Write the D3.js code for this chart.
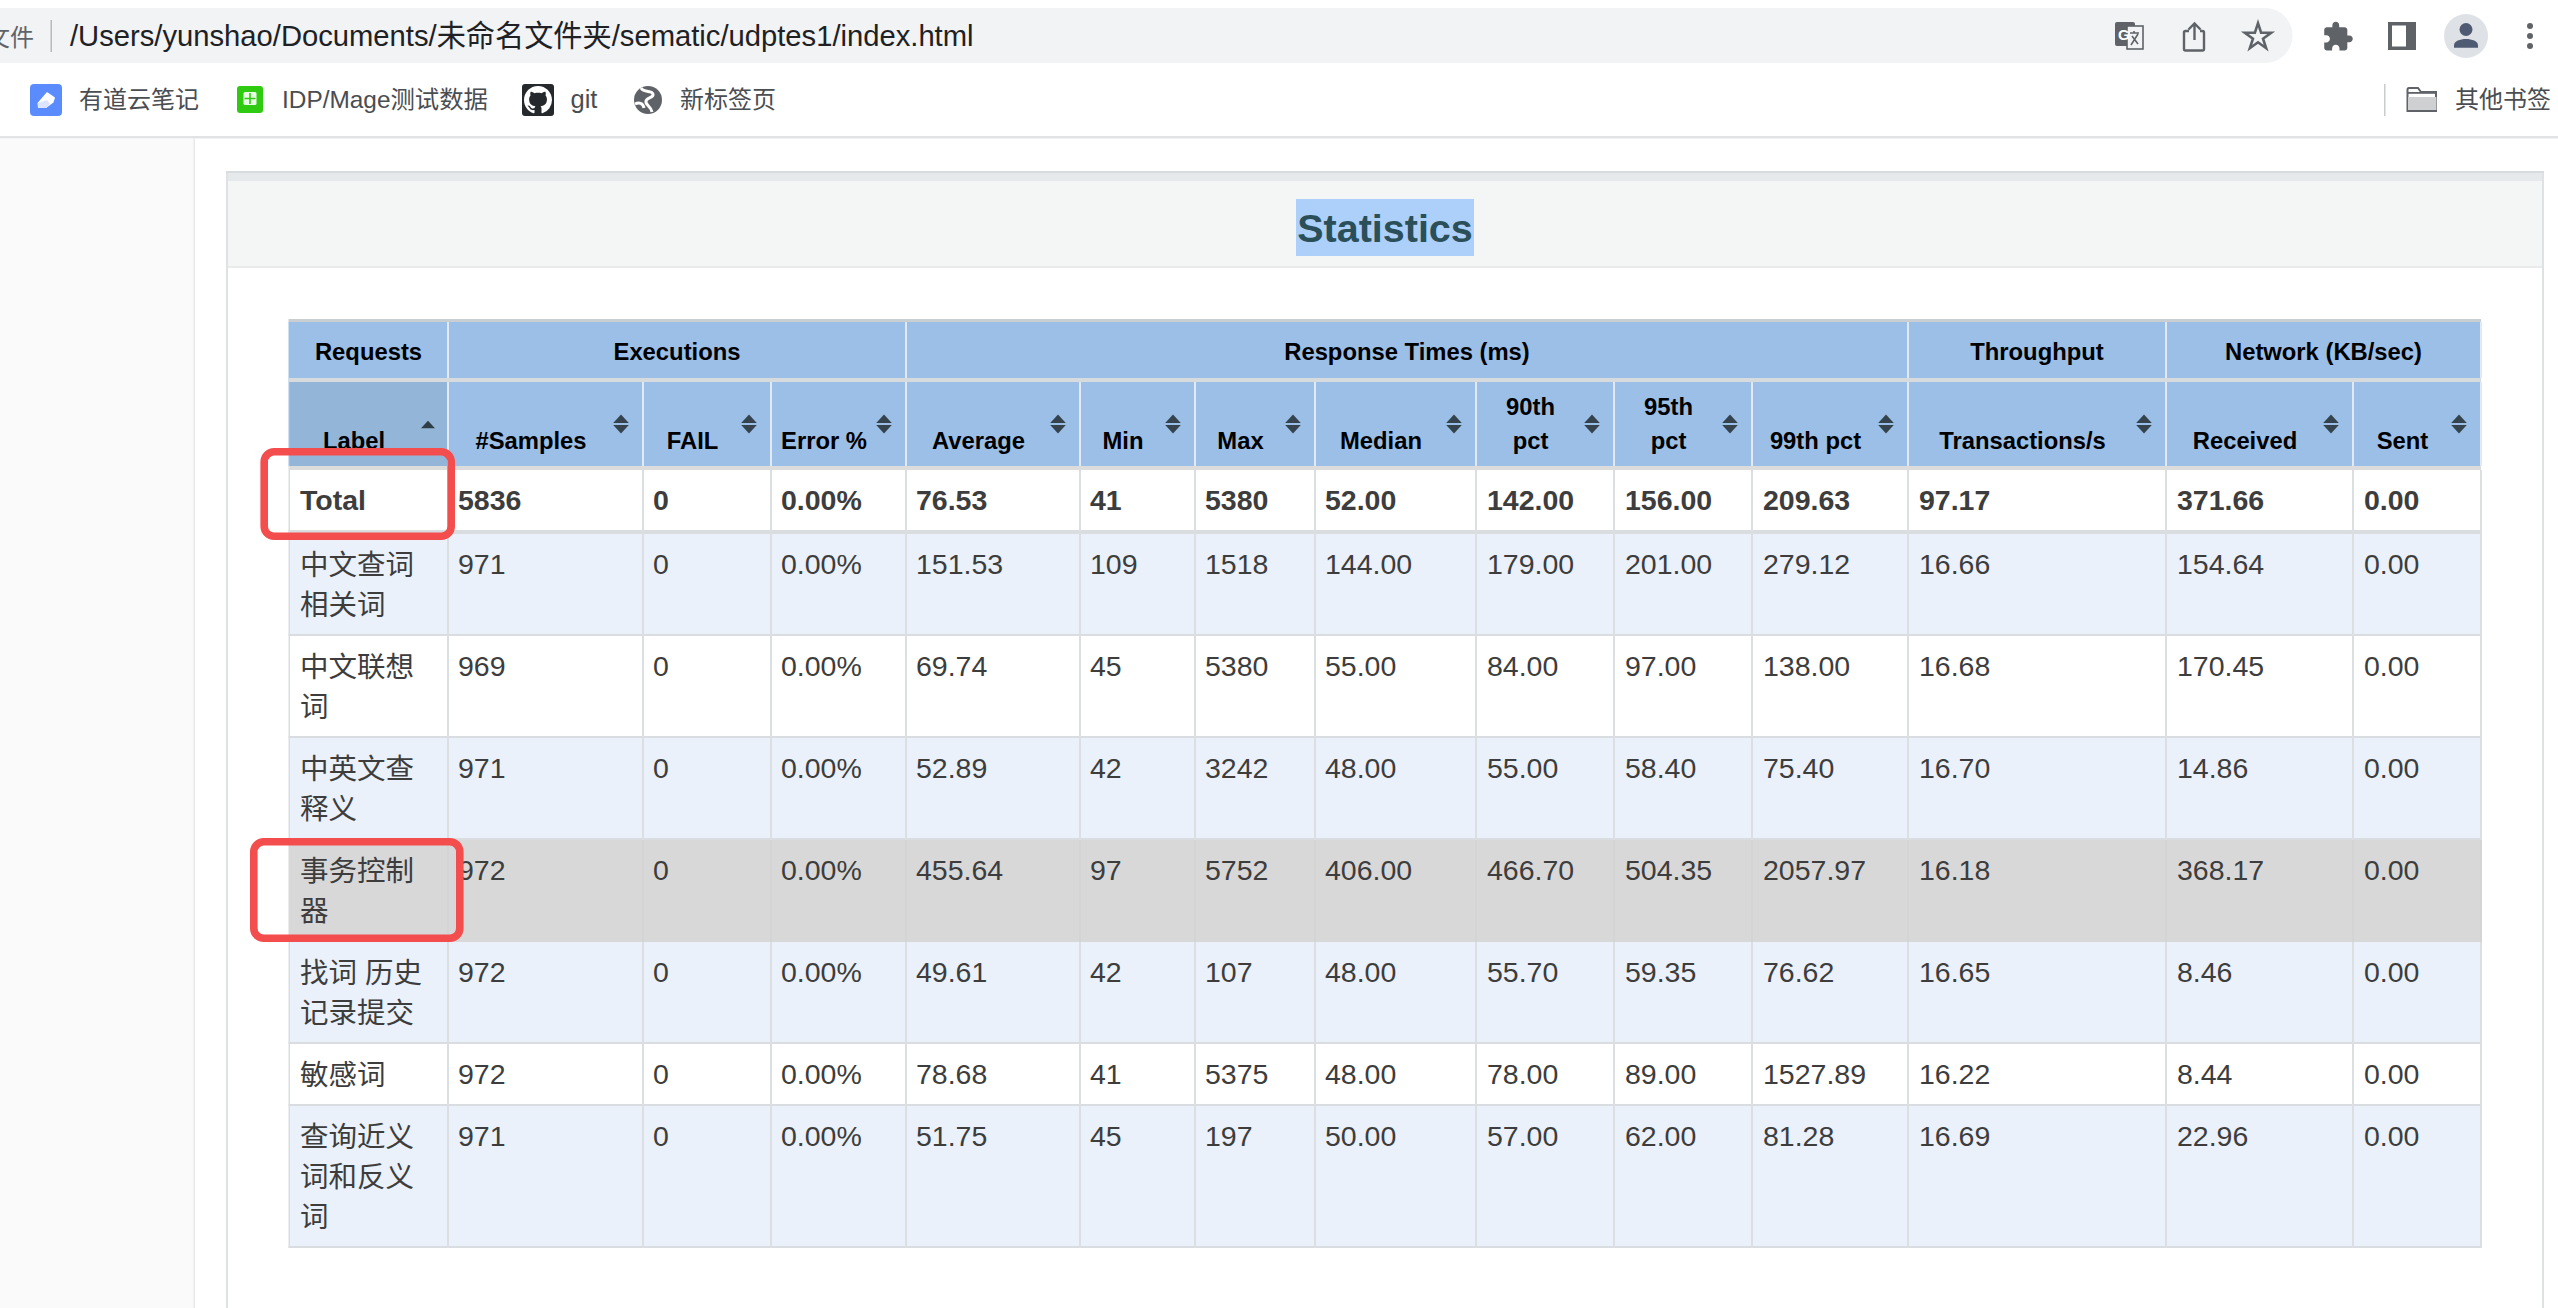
<!DOCTYPE html>
<html><head><meta charset="utf-8">
<script src="https://cdn.jsdelivr.net/npm/d3@7/dist/d3.min.js"></script>
<style>
html,body{margin:0;padding:0;background:#fff;overflow:hidden}
svg{display:block}
text{font-family:"Liberation Sans","Noto Sans CJK SC",sans-serif}
</style></head><body>
<script>
// ---- data ----
const labels = ["Total","中文查词相关词","中文联想词","中英文查释义","事务控制器","找词 历史记录提交","敏感词","查询近义词和反义词"];
const samples = [5836,971,969,971,972,972,972,971];
const fails = [0,0,0,0,0,0,0,0];
const errorPct = [0,0,0,0,0,0,0,0];
const average = [76.53,151.53,69.74,52.89,455.64,49.61,78.68,51.75];
const minimum = [41,109,45,42,97,42,41,45];
const maximum = [5380,1518,5380,3242,5752,107,5375,197];
const median = [52,144,55,48,406,48,48,50];
const p90 = [142,179,84,55,466.7,55.7,78,57];
const p95 = [156,201,97,58.4,504.35,59.35,89,62];
const p99 = [209.63,279.12,138,75.4,2057.97,76.62,1527.89,81.28];
const throughput = [97.17,16.66,16.68,16.7,16.18,16.65,16.22,16.69];
const received = [371.66,154.64,170.45,14.86,368.17,8.46,8.44,22.96];
const sent = [0,0,0,0,0,0,0,0];
const groupHeaders = ["Requests","Executions","Response Times (ms)","Throughput","Network (KB/sec)"];
const groupSpans = [1,3,7,1,2];
const columnHeaders = [["Label"],["#Samples"],["FAIL"],["Error %"],["Average"],["Min"],["Max"],["Median"],["90th","pct"],["95th","pct"],["99th pct"],["Transactions/s"],["Received"],["Sent"]];
const bookmarks = ["有道云笔记","IDP/Mage测试数据","git","新标签页"];
const otherBookmarks = "其他书签";
const urlText = "/Users/yunshao/Documents/未命名文件夹/sematic/udptes1/index.html";
const fileChip = "文件";
const pageTitle = "Statistics";
const hoveredRow = 4, boxedRows = [0,4];

// ---- layout ----
const W = 2558, H = 1308;
const colEdges = [289,448,643,771,906,1080,1195,1315,1476,1614,1752,1908,2166,2353,2481];
const f2 = d3.format(".2f"), f0 = d3.format("d");
const columns = [
  {v:labels, f:d=>d},
  {v:samples, f:f0},{v:fails, f:f0},{v:errorPct, f:d=>f2(d)+"%"},
  {v:average, f:f2},{v:minimum, f:f0},{v:maximum, f:f0},{v:median, f:f2},
  {v:p90, f:f2},{v:p95, f:f2},{v:p99, f:f2},{v:throughput, f:f2},{v:received, f:f2},{v:sent, f:f2}
];
const xEdge = d3.scaleOrdinal(d3.range(colEdges.length), colEdges);
const svg = d3.select("body").append("svg").attr("width",W).attr("height",H).attr("viewBox",`0 0 ${W} ${H}`);
const rect=(p,x,y,w,h,fill,rx)=>p.append("rect").attr("x",x).attr("y",y).attr("width",w).attr("height",h).attr("fill",fill).attr("rx",rx||0);
const txt=(p,x,y,s,size,fill,weight,anchor)=>p.append("text").attr("x",x).attr("y",y).attr("font-size",size).attr("fill",fill).attr("font-weight",weight||"normal").attr("text-anchor",anchor||"start").text(s);
const pth=(p,d,fill,tr)=>{const e=p.append("path").attr("d",d).attr("fill",fill);if(tr)e.attr("transform",tr);return e;};

// ---- browser chrome ----
const chrome = svg.append("g");
chrome.append("path").attr("d",`M0 8H2265a27.500 27.500 0 0 1 0 55H0Z`).attr("fill","#f1f3f4");
txt(chrome,-14,46,fileChip,24,"#5f6368");
rect(chrome,50.5,20,1.5,32,"#b8babd");
txt(chrome,70,46,urlText,29.2,"#202124");
// translate icon
const ic="#5f6368";
const ti=chrome.append("g");
rect(ti,2115,22,20,24,ic,2);
ti.append("rect").attr("x",2127).attr("y",26).attr("width",16).attr("height",23).attr("fill","#f1f3f4").attr("stroke",ic).attr("stroke-width",1.6);
txt(ti,2118,40,"G",15,"#fff","bold");
ti.append("path").attr("d","M2130 33h9M2134 31v2M2131 45l7-11M2132 36l6 8").attr("stroke",ic).attr("stroke-width",1.6).attr("fill","none");
// share
chrome.append("path").attr("d","M2189 31h-3.5a1.5 1.5 0 0 0-1.5 1.5V49a1.5 1.5 0 0 0 1.5 1.5h17a1.5 1.5 0 0 0 1.5-1.5V32.500a1.500 1.500 0 0 0-1.500-1.500H2200M2194.500 40V24M2188.500 29.500l6-6 6 6").attr("fill","none").attr("stroke",ic).attr("stroke-width",2.4);
// star
chrome.append("path").attr("d",d3.symbol(d3.symbolStar).size(215)()).attr("transform","translate(2258,37)").attr("fill","none").attr("stroke",ic).attr("stroke-width",2.6).attr("stroke-linejoin","miter");
// puzzle
pth(chrome,"M20.5 11H19V7c0-1.1-.9-2-2-2h-4V3.500C13 2.120 11.880 1 10.500 1S8 2.120 8 3.500V5H4c-1.100 0-1.990.9-1.990 2v3.800H3.500c1.490 0 2.700 1.210 2.700 2.700s-1.210 2.700-2.700 2.700H2V20c0 1.100.9 2 2 2h3.800v-1.500c0-1.490 1.210-2.700 2.700-2.700 1.490 0 2.700 1.210 2.700 2.700V22H17c1.100 0 2-.9 2-2v-4h1.500c1.380 0 2.500-1.120 2.500-2.500S21.880 11 20.500 11z",ic,"translate(2321.500,20.500) scale(1.36)");
// side panel
rect(chrome,2388,22,28,28,ic); rect(chrome,2392,25.500,14,21,"#fff");
// avatar
chrome.append("circle").attr("cx",2466).attr("cy",36).attr("r",22).attr("fill","#dee1e6");
chrome.append("circle").attr("cx",2466).attr("cy",29.500).attr("r",6.500).attr("fill","#4e5b72");
pth(chrome,"M2454 47.700v-2.500c0-4 6-6.200 12-6.200s12 2.200 12 6.200v2.500z","#4e5b72");
// dots
[26,36,46].forEach(y=>chrome.append("circle").attr("cx",2530).attr("cy",y).attr("r",3).attr("fill",ic));

// bookmarks bar
const bk=svg.append("g");
rect(bk,30,84,32,32,"#5b8cff",4);
pth(bk,"M47 92l8 5.500-1.500 5-7.500 5.500h-8l-.5-5z","#fff");
pth(bk,"M38 103l9-3 3 4-4 4h-8z","#dbe5ff");
txt(bk,79,108,bookmarks[0],24,"#4a4d51");
rect(bk,237,86,26,27,"#2fcb10",3);
rect(bk,243.500,92,13,13,"#e9fbe4",1.500);
bk.append("path").attr("d","M250 93v11M244.500 98.500h11").attr("stroke","#2fcb10").attr("stroke-width",1.600);
txt(bk,282,108,bookmarks[1],24.400,"#4a4d51");
rect(bk,522,84,32,32,"#26292c",3);
pth(bk,"M8 0C3.580 0 0 3.580 0 8c0 3.540 2.290 6.530 5.470 7.590.4.07.55-.17.55-.38 0-.19-.01-.82-.01-1.490-2.010.37-2.530-.49-2.690-.94-.09-.23-.48-.94-.82-1.130-.28-.15-.68-.52-.01-.53.63-.01 1.080.58 1.230.82.72 1.210 1.870.87 2.330.66.07-.52.28-.87.51-1.070-1.780-.2-3.640-.89-3.640-3.950 0-.87.31-1.590.82-2.150-.08-.2-.36-1.020.08-2.120 0 0 .67-.21 2.200.82.64-.18 1.320-.27 2-.27.68 0 1.360.09 2 .27 1.530-1.040 2.200-.82 2.200-.82.44 1.100.16 1.920.08 2.120.51.56.82 1.270.82 2.150 0 3.070-1.870 3.750-3.650 3.950.29.25.54.73.54 1.480 0 1.070-.01 1.930-.01 2.200 0 .21.15.46.55.38A8.013 8.013 0 0016 8c0-4.420-3.580-8-8-8z","#fff","translate(524,86) scale(1.750)");
txt(bk,570.500,108,bookmarks[2],25.500,"#4a4d51");
bk.append("circle").attr("cx",648).attr("cy",100).attr("r",14).attr("fill",ic);
bk.append("path").attr("d","M641 88c3 5 11 2 12 6s-6 3-7 7 5 5 6 11M635 104c4-2 8-1 9 4").attr("stroke","#fff").attr("stroke-width",3).attr("fill","none");
txt(bk,680,108,bookmarks[3],24,"#4a4d51");
rect(bk,2384,84,1.500,32,"#c9cbce");
bk.append("path").attr("d","M2407.500 89.500a1.500 1.500 0 0 1 1.500-1.500h9l3 4h15v19h-28.500z").attr("fill","#fff").attr("stroke",ic).attr("stroke-width",2);
rect(bk,2408,97,28.500,14,"#cfd0d2"); rect(bk,2407,92,30,1.800,ic); rect(bk,2407,110,30,2,ic);
txt(bk,2455,108,otherBookmarks,24,"#4a4d51");
rect(svg,0,136,W,2.500,"#e2e3e4");

// ---- page ----
rect(svg,0,138.500,193.500,H-138,"#fafafa");
rect(svg,193.500,138.500,1.500,H-138,"#e8e8e8");
rect(svg,226,171,2,H-171,"#dfe2e4");
rect(svg,2542,171,2,H-171,"#dfe2e4");
rect(svg,226,171,2318,2,"#d9dcdf");
rect(svg,228,173,2314,8,"#e6e9ec");
rect(svg,228,181,2314,85,"#f4f5f5");
rect(svg,228,266,2314,2,"#e9ebeb");
rect(svg,1296,199,178,57,"#add0fb");
txt(svg,1385,242,pageTitle,39.500,"#2b4f58","bold","middle");

// ---- table ----
const table = svg.append("g");
const rowLineH = 40;
function wrap(s,size,maxW){
  const probe = table.append("text").attr("font-size",size).attr("opacity",0);
  const lines=[]; let cur="";
  for(const ch of s){
    probe.text(cur+ch);
    if(probe.node().getComputedTextLength()>maxW && cur){lines.push(cur);cur=ch;} else cur+=ch;
  }
  if(cur)lines.push(cur);
  probe.remove();
  return lines;
}
const wrapped = labels.map(s=>wrap(s,28.500,135));
const heights = wrapped.map((l,i)=> i===0 ? 64 : 22+rowLineH*l.length);
const tops = [470,...d3.cumsum(heights).map(h=>470+h)];
const yRow = d3.scaleOrdinal(d3.range(tops.length), tops);
const nCols = columns.length;

// group header band
rect(table,288.500,319,2192.500,3.500,"#c9ced3");
rect(table,288.500,322,2192.500,144,"#9bbfe7");
rect(table,290,382,158,84,"#93b5d8");
rect(table,288.500,378,2192.500,4,"#d8dbdd");
rect(table,288.500,466,2192.500,4,"#dcdcdc");
let c0=0;
const groupStarts = groupSpans.map(s=>{const r=c0;c0+=s;return r;});
const gh = table.selectAll(".gh").data(groupHeaders).join("g").attr("class","gh");
gh.append("rect").attr("x",(d,i)=>xEdge(groupStarts[i]+groupSpans[i])-1).attr("y",322).attr("width",2).attr("height",56).attr("fill","#e3e9f1");
gh.append("text").attr("x",(d,i)=>(xEdge(groupStarts[i])+xEdge(groupStarts[i]+groupSpans[i]))/2).attr("y",360)
  .attr("text-anchor","middle").attr("font-size",23.800).attr("font-weight","bold").attr("fill","#000").text(d=>d);

// column headers
const ch = table.selectAll(".ch").data(columnHeaders).join("g").attr("class","ch");
ch.append("rect").attr("x",(d,i)=>xEdge(i+1)-1).attr("y",382).attr("width",2).attr("height",84).attr("fill","#e3e9f1");
ch.each(function(d,i){
  const g=d3.select(this), cx=(xEdge(i)+xEdge(i+1))/2-14.500;
  d.forEach((s,k)=>txt(g,cx,449-34*(d.length-1-k),s,23.800,"#000","bold","middle"));
  const ix = i===0 ? xEdge(1)-20 : xEdge(i+1)-22;
  const up="M0 -9.500L7.800 -1H-7.800Z", dn="M0 9.500L7.800 1H-7.800Z";
  if(i===0) pth(g,"M0 -3.700L7 3.700H-7Z","#2f3e46",`translate(${ix},424.500)`);
  else { pth(g,up,"#34434e",`translate(${ix},424)`); pth(g,dn,"#34434e",`translate(${ix},424)`); }
});

// body rows
const rows = table.selectAll(".row").data(labels).join("g").attr("class","row");
rows.append("rect").attr("x",289).attr("y",(d,i)=>yRow(i)).attr("width",2192).attr("height",(d,i)=>heights[i])
  .attr("fill",(d,i)=> i===hoveredRow ? "#d8d8d8" : (i%2 ? "#eaf1fa" : "#fff"));
rows.append("rect").attr("x",288.500).attr("width",2192.500)
  .attr("y",(d,i)=>yRow(i+1)-(i===0?4:2)).attr("height",(d,i)=>i===0?4:2)
  .attr("fill",(d,i)=> i===hoveredRow ? "#d8d8d8" : "#dadde0");
rows.each(function(d,r){
  const g=d3.select(this), bold=r===0;
  const baseY = r===0 ? 510 : yRow(r)+39.500;
  d3.range(nCols+1).forEach(c=>{ if(c>0) rect(g,xEdge(c)-1,yRow(r),2,heights[r],r===hoveredRow?"#d4d4d4":"#dcdfe2"); });
  rect(g,288.500,yRow(r),1.500,heights[r],r===hoveredRow?"#d8d8d8":"#dadde0");
  const fill="#3d3d3d";
  wrapped[r].forEach((line,k)=>txt(g,xEdge(0)+11,baseY+rowLineH*k+(r===0?0:1),line,28.500,fill,bold?"bold":"normal"));
  columns.forEach((col,c)=>{ if(c>0) txt(g,xEdge(c)+(c>=8?11:10),baseY,col.f(col.v[r]),28.500,fill,bold?"bold":"normal"); });
});

// red annotation boxes
const boxes=[[264.200,451.800,187,84.500],[253.800,841.800,206,96.500]];
svg.selectAll(".box").data(boxedRows).join("rect").attr("class","box")
  .attr("x",(d,i)=>boxes[i][0]).attr("y",(d,i)=>boxes[i][1]).attr("width",(d,i)=>boxes[i][2]).attr("height",(d,i)=>boxes[i][3])
  .attr("rx",10).attr("fill","none").attr("stroke","#f34d4d").attr("stroke-width",7.600);
</script>
</body></html>
